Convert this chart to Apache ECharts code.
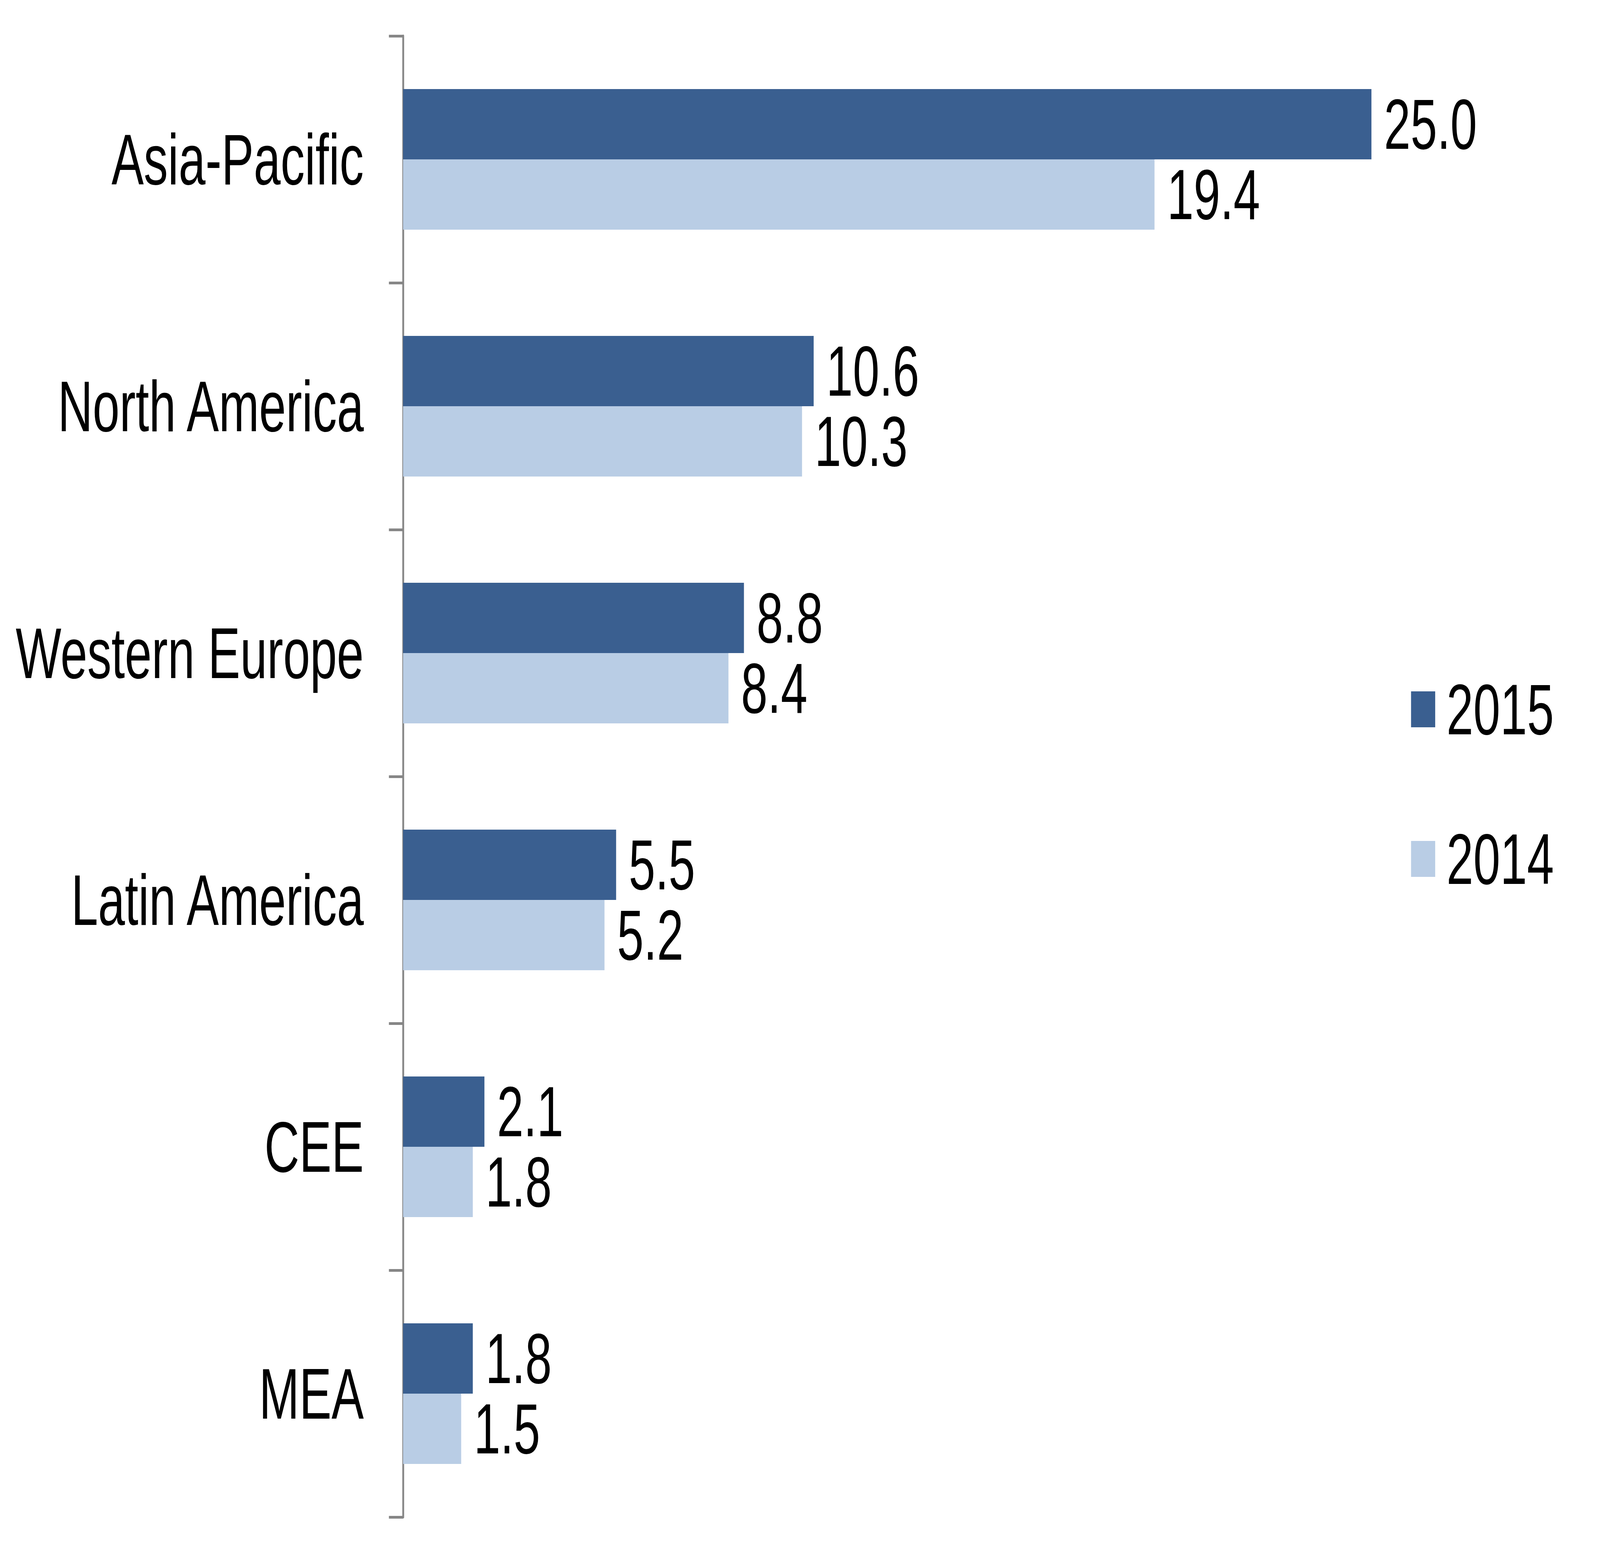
<!DOCTYPE html>
<html>
<head>
<meta charset="utf-8">
<title>Regions 2015 vs 2014</title>
<script src="https://cdn.jsdelivr.net/npm/echarts@6/dist/echarts.min.js"></script>
<style>
    html, body { margin: 0; padding: 0; background: #fff; overflow: hidden; }
    #chart { width: 6097px; height: 3976px; transform-origin: 0 0; }
</style>
</head>
<body>
<div id="chart"></div>
<script>
const regions = ['Asia-Pacific', 'North America', 'Western Europe', 'Latin America', 'CEE', 'MEA'];
const values2015 = [25.0, 10.6, 8.8, 5.5, 2.1, 1.8];
const values2014 = [19.4, 10.3, 8.4, 5.2, 1.8, 1.5];

const FONT = '"Liberation Sans", Arial, sans-serif';
const DARK = '#3A5F90';
const LIGHT = '#B9CDE5';

// the window can be narrower than the 6097px design, so fit the drawing to it
const box = document.getElementById('chart');
const sx = window.innerWidth / 6097;
const sy = window.innerHeight / 3976;
if (sx < 1 || sy < 1) {
    box.style.transform = 'scale(' + Math.min(sx, 1) + ',' + Math.min(sy, 1) + ')';
}

function barSeries(name, data, color) {
    return {
        name: name,
        type: 'bar',
        data: data,
        barWidth: 180,
        barGap: '0%',
        itemStyle: { color: color },
        label: {
            show: true,
            position: 'right',
            distance: 48,
            color: '#000',
            fontFamily: FONT,
            fontSize: 182,
            formatter: function (p) { return p.value.toFixed(1); }
        }
    };
}

const chart = echarts.init(box, null, { renderer: 'svg' });

chart.setOption({
    animation: false,
    backgroundColor: '#fff',
    grid: { left: 1536, right: 133, top: 92, bottom: 92, containLabel: false },
    xAxis: {
        type: 'value',
        min: 0,
        max: 30,
        show: false
    },
    yAxis: {
        type: 'category',
        data: regions,
        inverse: true,
        axisLine: { show: true, lineStyle: { color: '#868686', width: 7 } },
        axisTick: { show: true, length: 54, lineStyle: { color: '#868686', width: 7 } },
        axisLabel: {
            color: '#000',
            fontFamily: FONT,
            fontSize: 184,
            margin: 150
        },
        splitLine: { show: false }
    },
    legend: {
        orient: 'vertical',
        left: 5372,
        top: 1719,
        icon: 'rect',
        itemWidth: 92,
        itemHeight: 92,
        itemGap: 199,
        textStyle: {
            color: '#000',
            fontFamily: FONT,
            fontSize: 184,
            lineHeight: 182,
            padding: [0, 0, 0, 38]
        },
        data: ['2015', '2014']
    },
    series: [
        barSeries('2015', values2015, DARK),
        barSeries('2014', values2014, LIGHT)
    ]
});
</script>
</body>
</html>
